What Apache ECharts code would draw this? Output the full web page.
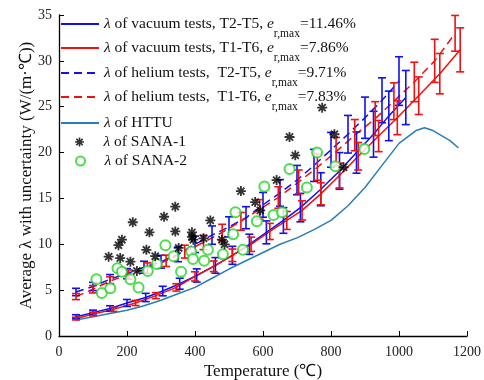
<!DOCTYPE html>
<html>
<head>
<meta charset="utf-8">
<script src="https://cdn.jsdelivr.net/npm/echarts@6/dist/echarts.min.js"></script>
<style>html,body{margin:0;padding:0;background:#fff}#chart{width:484px;height:380px}</style>
</head>
<body>
<div id="chart"></div>
<script>
// vacuum tests, T2-T5
var vacT25Temp = [50,100,150,200,255,305,355,405,460,510,560,610,660,710,770,825,875,925,970,1020];
var vacT25Lambda = [2.1,2.55,3.0,3.6,4.2,4.9,5.7,6.6,7.7,8.8,10.0,11.3,12.6,14.0,16.0,18.0,20.0,22.0,24.0,26.0];
var vacT25Err = [0.22,0.27,0.3,0.38,0.45,0.52,0.6,0.72,0.85,0.98,1.1,1.25,1.4,1.55,1.8,2.0,2.25,2.5,2.7,2.95];
// vacuum tests, T1-T6
var vacT16Temp = [50,100,160,225,285,345,400,455,510,565,620,670,715,770,825,880,940,995,1058,1120,1180];
var vacT16Lambda = [1.9,2.4,2.9,3.6,4.4,5.3,6.5,7.6,8.8,10.0,11.4,12.6,13.7,15.5,17.5,19.6,21.8,23.8,26.2,28.6,31.2];
var vacT16Err = [0.15,0.2,0.22,0.28,0.33,0.4,0.5,0.58,0.68,0.78,0.88,0.98,1.05,1.2,1.35,1.5,1.7,1.85,2.05,2.2,2.4];
// helium tests, T2-T5
var heT25Temp = [50,100,150,200,250,300,350,400,450,500,550,600,650,700,750,800,850,900,950,1000];
var heT25Lambda = [4.8,5.4,6.2,6.8,7.5,8.1,8.9,10.0,11.0,11.9,12.9,14.3,15.6,17.0,18.6,20.3,22.0,23.8,25.7,27.8];
var heT25Err = [0.4,0.45,0.5,0.55,0.65,0.7,0.8,0.9,1.0,1.1,1.2,1.35,1.45,1.6,1.75,1.9,2.05,2.25,2.45,2.65];
// helium tests, T1-T6
var heT16Temp = [50,100,150,205,260,315,370,425,480,535,590,645,705,760,815,870,930,985,1045,1105,1165];
var heT16Lambda = [4.3,5.1,6.0,6.7,7.4,8.2,9.2,10.2,11.3,12.5,13.8,15.1,16.8,18.4,20.1,21.9,23.7,25.6,27.7,30.0,33.0];
var heT16Err = [0.33,0.4,0.45,0.5,0.57,0.62,0.7,0.78,0.88,0.97,1.07,1.17,1.3,1.42,1.55,1.7,1.85,2.0,2.15,2.35,1.95];
// HTTU
var httuTemp = [50,100,150,200,250,300,350,400,450,500,550,600,650,700,750,800,850,900,950,1000,1050,1075,1100,1150,1175];
var httuLambda = [1.75,2.1,2.45,2.8,3.3,3.9,4.6,5.3,6.3,7.3,8.2,9.1,10.0,10.7,11.6,12.6,14.2,16.2,18.6,21.0,22.4,22.7,22.4,21.3,20.5];
// SANA-1
var sana1Temp = [146,175,185,180,210,217,229,257,266,283,309,342,342,352,391,391,395,425,445,479,487,535,577,592,640,678,695,774,810,837];
var sana1Lambda = [8.65,9.9,10.5,8.5,8.1,12.4,7.1,9.4,11.3,8.7,13.0,14.1,11.4,9.6,11.3,10.8,10.5,10.65,12.6,10.5,10.0,15.8,14.6,13.7,17.0,21.7,19.7,24.9,22.0,18.4];
// SANA-2
var sana2Temp = [110,126,151,172,185,210,234,261,288,313,337,359,389,394,427,438,482,512,519,541,582,604,631,656,678,729,759,813,898];
var sana2Lambda = [6.2,4.7,5.2,7.4,7.0,6.2,5.3,7.1,7.85,9.9,8.7,7.0,9.2,8.4,8.2,9.4,8.9,11.1,13.5,9.4,12.5,16.3,13.2,13.5,18.2,16.2,20.0,18.5,20.4];

var font = 'Liberation Serif';
var cBlue = '#1010f0', cRed = '#ee1111', cHttu = '#2a7db8', cGreen = '#22d422';
var star = 'path://M-0.9,-5 L0.9,-5 L0.9,5 L-0.9,5 Z M-5,-0.9 L5,-0.9 L5,0.9 L-5,0.9 Z M-2.9,-4.18 L4.18,2.9 L2.9,4.18 L-4.18,-2.9 Z M2.9,-4.18 L4.18,-2.9 L-2.9,4.18 L-4.18,2.9 Z';

var names = [
  'λ of vacuum tests, T2-T5, e r,max=11.46%',
  'λ of vacuum tests, T1-T6, e r,max=7.86%',
  'λ of helium tests,  T2-T5, e r,max=9.71%',
  'λ of helium tests,  T1-T6, e r,max=7.83%',
  'λ of HTTU',
  'λ of SANA-1',
  'λ of SANA-2'
];
var richNames = {};
richNames[names[0]] = '{i|λ} of vacuum tests, T2-T5, {i|e}{s|r,max}=11.46%';
richNames[names[1]] = '{i|λ} of vacuum tests, T1-T6, {i|e}{s|r,max}=7.86%';
richNames[names[2]] = '{i|λ} of helium tests,  T2-T5, {i|e}{s|r,max}=9.71%';
richNames[names[3]] = '{i|λ} of helium tests,  T1-T6, {i|e}{s|r,max}=7.83%';
richNames[names[4]] = '{i|λ} of HTTU';
richNames[names[5]] = '{i|λ} of SANA-1';
richNames[names[6]] = '{i|λ} of SANA-2';

function zip(xs, ys) { return xs.map(function (x, i) { return [x, ys[i]]; }); }

function lineSeries(name, xs, ys, color, dashed) {
  return {
    type: 'line', name: name, data: zip(xs, ys), symbol: 'none', z: 3,
    lineStyle: {color: color, width: 1.5, type: dashed ? [8, 5] : 'solid'},
    itemStyle: {color: color}
  };
}

function errSeries(name, xs, ys, es, color) {
  return {
    type: 'custom', name: name, z: 4,
    encode: {x: 0, y: 1},
    data: xs.map(function (x, i) { return [x, ys[i], es[i]]; }),
    renderItem: function (params, api) {
      var x = api.value(0), y = api.value(1), e = api.value(2);
      var lo = api.coord([x, y - e]), hi = api.coord([x, y + e]);
      var w = 4, st = {stroke: color, lineWidth: 1.6};
      return {type: 'group', children: [
        {type: 'line', shape: {x1: lo[0], y1: lo[1], x2: hi[0], y2: hi[1]}, style: st},
        {type: 'line', shape: {x1: lo[0] - w, y1: lo[1], x2: lo[0] + w, y2: lo[1]}, style: st},
        {type: 'line', shape: {x1: hi[0] - w, y1: hi[1], x2: hi[0] + w, y2: hi[1]}, style: st}
      ]};
    }
  };
}

var legendRich = {
  i: {fontStyle: 'italic', fontFamily: font, fontSize: 15.5, color: '#111'},
  s: {fontFamily: font, fontSize: 11.5, color: '#111', padding: [19, 0, 0, 0]}
};
function legendFor(name, top, left, icon) {
  var lg = {
    data: [name], left: left, top: top, padding: 0, itemWidth: 38, itemHeight: icon ? 9 : 14, itemGap: 0,
    selectedMode: false,
    formatter: function (n) { return richNames[n]; },
    textStyle: {fontFamily: font, fontSize: 15.5, color: '#111', rich: legendRich}
  };
  if (icon) { lg.icon = icon; lg.symbolKeepAspect = true; }
  else lg.itemStyle = {opacity: 0};
  return lg;
}

var chart = echarts.init(document.getElementById('chart'));
chart.setOption({
  backgroundColor: '#fff',
  animation: false,
  grid: {left: 59, right: 17, top: 15, bottom: 44, outerBoundsMode: 'none'},
  legend: [
    legendFor(names[0], 16, 60),
    legendFor(names[1], 40, 60),
    legendFor(names[2], 65, 60),
    legendFor(names[3], 89, 60),
    legendFor(names[4], 115, 60),
    legendFor(names[5], 134, 75, star),
    legendFor(names[6], 153, 75, 'emptyCircle')
  ],
  xAxis: {
    type: 'value', min: 0, max: 1200, interval: 200,
    name: 'Temperature (℃)', nameLocation: 'middle', nameGap: 27, nameMoveOverlap: false,
    nameTextStyle: {fontFamily: font, fontSize: 17, color: '#111'},
    axisLine: {lineStyle: {color: '#000', width: 1.3}},
    axisTick: {inside: true, length: 5, lineStyle: {color: '#000'}},
    axisLabel: {fontFamily: font, fontSize: 14, color: '#222', margin: 9,
      formatter: function (v) { return String(v); }},
    splitLine: {show: false}
  },
  yAxis: {
    type: 'value', min: 0, max: 35, interval: 5,
    name: 'Average λ with uncertainty (W/(m·℃))', nameLocation: 'middle', nameGap: 24, nameMoveOverlap: false,
    nameTextStyle: {fontFamily: font, fontSize: 17, color: '#111'},
    axisLine: {show: true, lineStyle: {color: '#000', width: 1.3}},
    axisTick: {show: true, inside: true, length: 5, lineStyle: {color: '#000'}},
    axisLabel: {fontFamily: font, fontSize: 14, color: '#222', margin: 7},
    splitLine: {show: false}
  },
  series: [
    lineSeries(names[0], vacT25Temp, vacT25Lambda, cBlue, false),
    lineSeries(names[1], vacT16Temp, vacT16Lambda, cRed, false),
    lineSeries(names[2], heT25Temp, heT25Lambda, cBlue, true),
    lineSeries(names[3], heT16Temp, heT16Lambda, cRed, true),
    lineSeries(names[4], httuTemp, httuLambda, cHttu, false),
    {type: 'scatter', name: names[5], data: zip(sana1Temp, sana1Lambda), symbol: star, symbolSize: 10, z: 6,
     itemStyle: {color: '#000'}},
    {type: 'scatter', name: names[6], data: zip(sana2Temp, sana2Lambda), symbol: 'emptyCircle', symbolSize: 10, z: 5,
     itemStyle: {color: cGreen, borderColor: cGreen, borderWidth: 1.4}},
    errSeries('err vac T2-T5', vacT25Temp, vacT25Lambda, vacT25Err, cBlue),
    errSeries('err he T2-T5', heT25Temp, heT25Lambda, heT25Err, cBlue),
    errSeries('err vac T1-T6', vacT16Temp, vacT16Lambda, vacT16Err, cRed),
    errSeries('err he T1-T6', heT16Temp, heT16Lambda, heT16Err, cRed)
  ]
});
</script>
</body>
</html>
